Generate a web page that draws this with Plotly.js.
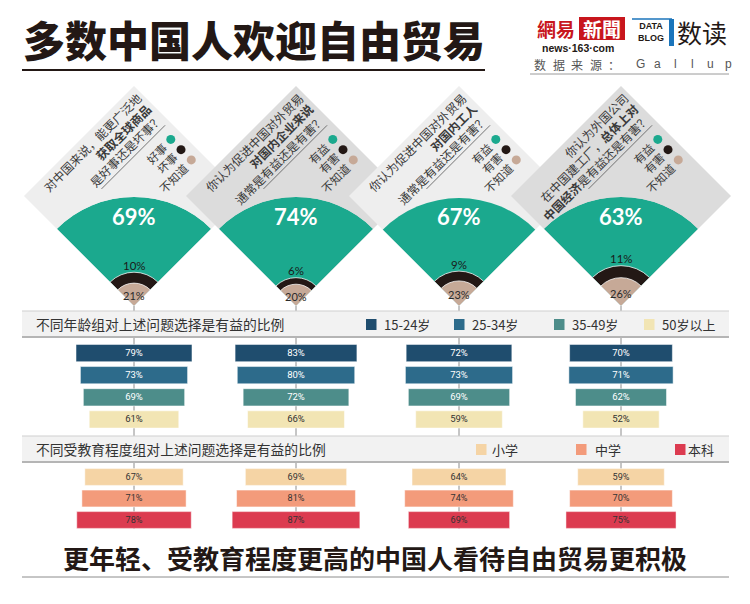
<!DOCTYPE html>
<html>
<head>
<meta charset="utf-8">
<script src="https://cdn.plot.ly/plotly-3.0.1.min.js"></script>
<style>
html,body{margin:0;padding:0;background:#ffffff;}
#chart{width:750px;height:604px;}
</style>
</head>
<body>
<div id="chart"></div>
<script>
// ---------------- data ----------------
const questionLines = [
  ['对中国来说，能更广泛地', '<b>获取全球商品</b>', '是好事还是坏事？'],
  ['你认为促进中国对外贸易', '<b>对国内企业来说</b>', '通常是有益还是有害？'],
  ['你认为促进中国对外贸易', '<b>对国内工人</b>', '通常是有益还是有害？'],
  ['你认为外国公司', '在中国建工厂，<b>总体上对</b>', '<b>中国经济</b>是有益还是有害？']
];
const answerLabels = [
  ['好事', '坏事', '不知道'],
  ['有益', '有害', '不知道'],
  ['有益', '有害', '不知道'],
  ['有益', '有害', '不知道']
];
const goodPct = [69, 74, 67, 63];
const badPct = [10, 6, 9, 11];
const unknownPct = [21, 20, 23, 26];

const ageGroups = ['15-24岁', '25-34岁', '35-49岁', '50岁以上'];
const age15to24 = [79, 83, 72, 70];
const age25to34 = [73, 80, 73, 71];
const age35to49 = [69, 72, 69, 62];
const age50plus = [61, 66, 59, 52];

const eduGroups = ['小学', '中学', '本科'];
const eduPrimary = [67, 69, 64, 59];
const eduMiddle = [71, 81, 74, 70];
const eduCollege = [78, 87, 69, 75];

// ---------------- styling / layout ----------------
const W = 750, H = 604;
const px = x => x / W;
const py = y => 1 - y / H;
const CJK = '"Noto Sans CJK SC", "Noto Sans", sans-serif';
const NUM = 'Lato, "Noto Sans", sans-serif';
const NARROW = '"Liberation Sans Narrow", "Roboto", "Noto Sans CJK SC", sans-serif';
const LATIN = '"Liberation Sans", Arial, sans-serif';

const GREEN = '#1ba98e', BLACK = '#231815', TAN = '#c6a997';
const answerColors = [GREEN, BLACK, TAN];
const ageColors = ['#1f4d6e', '#2d6b8b', '#4d8d8a', '#f2e5b4'];
const ageText = ['#ffffff', '#ffffff', '#ffffff', '#333333'];
const eduColors = ['#f5d4a5', '#f39b7b', '#dc3b50'];
const eduText = ['#333333', '#333333', '#333333'];

const colCenters = [134, 296, 459, 621];
const diamondCY = 196, HALF = 110, FAN_R = 109;
const fanBottom = diamondCY + HALF;
const diamondFill = ['#eeeeee', '#dcdcdc', '#eeeeee', '#dcdcdc'];
const PX_PER_PCT = 1.468;
const COL_HALF = 81;

const shapes = [];
const annotations = [];
const S2 = Math.SQRT2;

function txt(text, x, y, o) {
  o = o || {};
  annotations.push({
    text: text, x: px(x), y: py(y), xref: 'paper', yref: 'paper',
    showarrow: false, xanchor: o.xanchor || 'center', yanchor: o.yanchor || 'middle',
    textangle: o.angle || 0, align: o.align || 'center',
    font: {family: o.family || CJK, size: o.size || 12, color: o.color || '#333', weight: o.weight || 'normal'},
    borderpad: 0
  });
}
function line(x0, y0, x1, y1, color, width) {
  shapes.push({type: 'line', xref: 'paper', yref: 'paper', x0: px(x0), y0: py(y0), x1: px(x1), y1: py(y1),
    line: {color: color, width: width}, layer: 'below'});
}
function rect(x0, y0, x1, y1, fill, lc, lw) {
  shapes.push({type: 'rect', xref: 'paper', yref: 'paper', x0: px(x0), y0: py(y0), x1: px(x1), y1: py(y1),
    fillcolor: fill, line: {color: lc || fill, width: lw || 0}, layer: 'below'});
}

// ---- header ----
txt('多数中国人欢迎自由贸易', 22, 39, {xanchor: 'left', size: 42, color: '#231815', weight: 900});
line(22, 70, 485, 70, '#231815', 2);

// logo
txt('網易', 556, 28, {size: 19, color: '#c8161d', weight: 'bold', family: '"Noto Sans CJK TC", sans-serif'});
rect(579, 17, 625, 40, '#c8161d');
txt('新聞', 602, 28, {size: 19, color: '#ffffff', weight: 'bold', family: '"Noto Sans CJK TC", sans-serif'});
txt('news·163·com', 578, 48.5, {size: 10.5, color: '#231815', weight: 'bold', family: LATIN});
txt('DATA<br>BLOG', 651, 32, {size: 9, color: '#231815', weight: 'bold', family: LATIN});
line(632, 19, 672, 19, '#1b75bb', 1.5);
rect(669, 19, 674, 46, '#1b75bb');
txt('数读', 702, 32, {size: 25, color: '#231815'});
const srcChars = ['数', '据', '来', '源', '：'];
srcChars.forEach((ch, k) => txt(ch, 540 + 18.5 * k, 64.5, {size: 12, color: '#555555'}));
'Gallup'.split('').forEach((ch, k) => txt(ch, 640 + 17.6 * k, 64.5, {size: 12, color: '#555555', family: LATIN}));
line(530, 74, 729, 74, '#9a9a9a', 1);

// ---- diamonds (backgrounds) ----
function uv(cx, u, v) { return [cx + (u + v) / S2, diamondCY + (v - u) / S2]; }
colCenters.forEach((cx, i) => {
  const p = [[cx, diamondCY - HALF], [cx + HALF, diamondCY], [cx, diamondCY + HALF], [cx - HALF, diamondCY]];
  const path = 'M' + p.map(q => px(q[0]) + ',' + py(q[1])).join('L') + 'Z';
  shapes.push({type: 'path', xref: 'paper', yref: 'paper', path: path, fillcolor: diamondFill[i],
    line: {width: 0}, layer: 'below'});
});

// diamond texts
const qV = [-68, -53, -38];
const legV = [-14, 0.5, 15];
colCenters.forEach((cx, i) => {
  questionLines[i].forEach((s, j) => {
    const n = s.replace(/<[^>]+>/g, '').length;
    const uc = 74 - n * 12 / 2;
    const q = uv(cx, uc, qV[j]);
    txt(s, q[0], q[1], {angle: -45, size: 12, color: '#3a3a3a'});
  });
  const a = uv(cx, -18, -28), b = uv(cx, 72, -28);
  line(a[0], a[1], b[0], b[1], '#555555', 0.8);
  answerLabels[i].forEach((s, j) => {
    const uc = 58 - s.length * 11.5 / 2;
    const q = uv(cx, uc, legV[j]);
    txt(s, q[0], q[1], {angle: -45, size: 11.5, color: '#3a3a3a'});
    const d = uv(cx, 66, legV[j]);
    shapes.push({type: 'circle', xref: 'paper', yref: 'paper', x0: px(d[0] - 4.5), x1: px(d[0] + 4.5),
      y0: py(d[1] + 4.5), y1: py(d[1] - 4.5), fillcolor: answerColors[j], line: {width: 0}, layer: 'above'});
  });
});

// ---- column guide lines ----
const xKeys = ['x', 'x2', 'x3', 'x4'];
xKeys.forEach(k => {
  shapes.push({type: 'line', xref: k, yref: 'paper', x0: 0, x1: 0, y0: py(529), y1: py(306),
    line: {color: '#8c8c8c', width: 1}, layer: 'below'});
});

// ---- section bands ----
function band(y0, y1) {
  rect(22, y0, 729, y1, '#f2f2f2');
  line(22, y0, 729, y0, '#cfcfcf', 1);
  line(22, y1, 729, y1, '#b5b5b5', 2);
}
band(311, 337);
band(436, 462);
txt('不同年龄组对上述问题选择是有益的比例', 35, 324, {xanchor: 'left', size: 13.8, color: '#333'});
txt('不同受教育程度组对上述问题选择是有益的比例', 35, 449, {xanchor: 'left', size: 13.8, color: '#333'});
const ageLegX = [366, 454, 554, 644];
ageGroups.forEach((g, j) => {
  rect(ageLegX[j], 319, ageLegX[j] + 10.5, 330, ageColors[j]);
  txt(g, ageLegX[j] + 17, 324.5, {xanchor: 'left', size: 13, color: '#333'});
});
const eduLegX = [476, 576, 675];
const eduLegGap = [15, 18, 12];
eduGroups.forEach((g, j) => {
  rect(eduLegX[j], 444, eduLegX[j] + 10.5, 455, eduColors[j]);
  txt(g, eduLegX[j] + eduLegGap[j], 449.5, {xanchor: 'left', size: 13, color: '#333'});
});

// ---- footer ----
txt('更年轻、受教育程度更高的中国人看待自由贸易更积极', 375, 557, {size: 26, color: '#231815', weight: 'bold'});
line(22, 577, 729, 577, '#8c8c8c', 1);

// ---------------- traces ----------------
const traces = [];
const layout = {
  width: W, height: H,
  margin: {l: 0, r: 0, t: 0, b: 0, pad: 0},
  paper_bgcolor: '#ffffff', plot_bgcolor: 'rgba(0,0,0,0)',
  showlegend: false, bargap: 0.22,
  font: {family: CJK},
  shapes: shapes, annotations: annotations,
  yaxis: {domain: [py(430.5), py(342)], type: 'category', categoryorder: 'array', categoryarray: ageGroups,
    range: [3.5, -0.5], visible: false, fixedrange: true},
  yaxis2: {domain: [py(530.75), py(466.25)], type: 'category', categoryorder: 'array', categoryarray: eduGroups,
    range: [2.5, -0.5], visible: false, fixedrange: true, anchor: 'x'}
};

colCenters.forEach((cx, c) => {
  const axKey = c === 0 ? 'xaxis' : 'xaxis' + (c + 1);
  const lim = COL_HALF / PX_PER_PCT;
  layout[axKey] = {domain: [px(cx - COL_HALF), px(cx + COL_HALF)], range: [-lim, lim], visible: false,
    fixedrange: true, anchor: 'y', showgrid: false, zeroline: false};

  // fan (polar)
  const pKey = c === 0 ? 'polar' : 'polar' + (c + 1);
  layout[pKey] = {
    domain: {x: [px(cx - FAN_R / S2), px(cx + FAN_R / S2)], y: [py(fanBottom), py(fanBottom - FAN_R)]},
    sector: [45, 135], hole: 0, bgcolor: 'rgba(0,0,0,0)', barmode: 'overlay',
    radialaxis: {visible: false, range: [0, 100], showgrid: false},
    angularaxis: {visible: false, rotation: 0, direction: 'counterclockwise', showgrid: false}
  };
  const total = goodPct[c] + badPct[c] + unknownPct[c];
  traces.push({
    type: 'barpolar', subplot: pKey,
    r: [total, badPct[c] + unknownPct[c], unknownPct[c]],
    theta: [90, 90, 90], width: [90, 90, 90],
    marker: {color: answerColors, line: {color: 'rgba(255,255,255,0.75)', width: [0, 1, 1]}},
    hoverinfo: 'skip'
  });
  const rpx = FAN_R / 100;
  txt(goodPct[c] + '%', cx, fanBottom - 90, {size: 22, color: '#ffffff', weight: 'bold', family: NUM});
  txt(badPct[c] + '%', cx, fanBottom - (badPct[c] + unknownPct[c]) * rpx - 7, {size: 11.5, color: '#1a1a1a', family: NUM});
  txt(unknownPct[c] + '%', cx, fanBottom - Math.max(unknownPct[c] * rpx * 0.45, 9), {size: 11, color: '#2a2a2a', family: NUM});

  // age bars
  const xk = xKeys[c];
  const ageVals = [age15to24[c], age25to34[c], age35to49[c], age50plus[c]];
  traces.push({
    type: 'bar', orientation: 'h', xaxis: xk, yaxis: 'y',
    y: ageGroups, x: ageVals, base: ageVals.map(v => -v / 2),
    marker: {color: ageColors, line: {color: 'rgba(255,255,255,0.5)', width: 1}},
    text: ageVals.map(v => v + '%'), textposition: 'inside', insidetextanchor: 'middle',
    textfont: {family: NARROW, size: 11, color: ageText}, hoverinfo: 'skip', cliponaxis: false
  });
  const eduVals = [eduPrimary[c], eduMiddle[c], eduCollege[c]];
  traces.push({
    type: 'bar', orientation: 'h', xaxis: xk, yaxis: 'y2',
    y: eduGroups, x: eduVals, base: eduVals.map(v => -v / 2),
    marker: {color: eduColors, line: {color: 'rgba(255,255,255,0.5)', width: 1}},
    text: eduVals.map(v => v + '%'), textposition: 'inside', insidetextanchor: 'middle',
    textfont: {family: NARROW, size: 11, color: eduText}, hoverinfo: 'skip', cliponaxis: false
  });
});

Plotly.newPlot('chart', traces, layout, {displayModeBar: false, responsive: false});
</script>
</body>
</html>
